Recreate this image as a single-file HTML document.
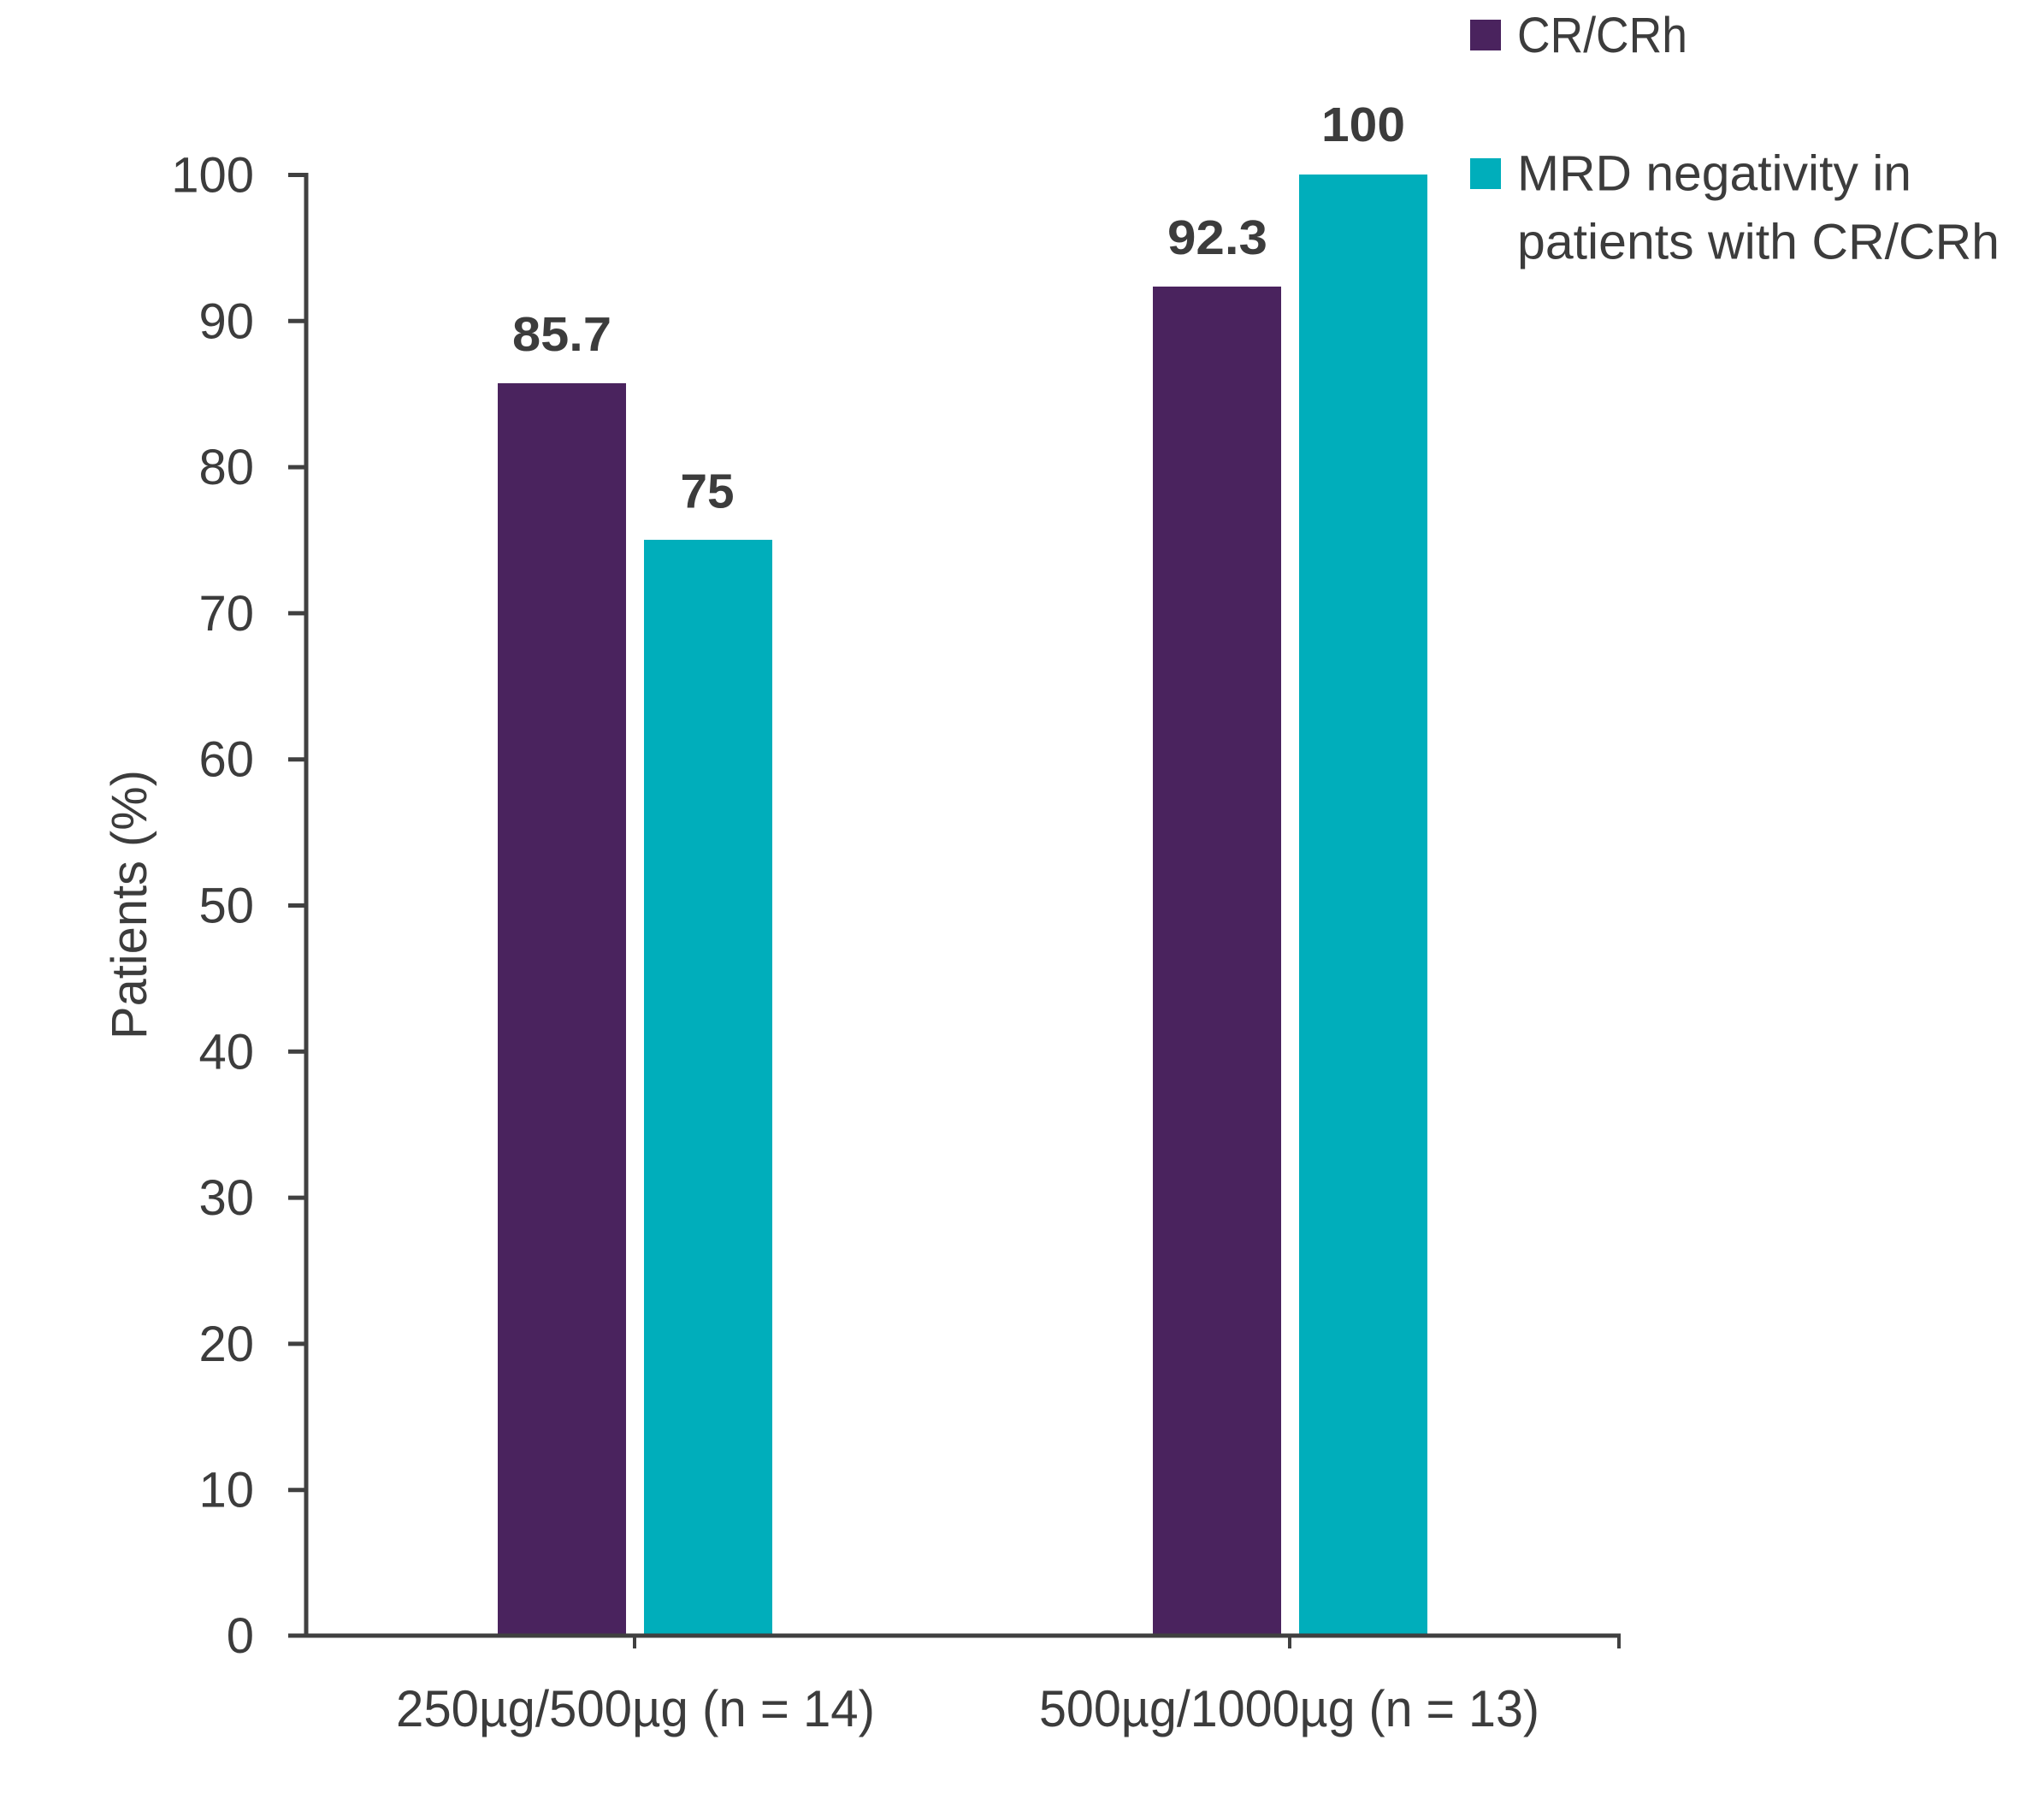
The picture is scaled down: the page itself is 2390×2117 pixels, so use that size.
<!DOCTYPE html>
<html>
<head>
<meta charset="utf-8">
<style>
  html, body { margin: 0; padding: 0; background: #ffffff; }
  body { width: 2390px; height: 2117px; overflow: hidden; }
  svg { display: block; }
  text { font-family: "Liberation Sans", "DejaVu Sans", sans-serif; fill: #3c3c3c; }
</style>
</head>
<body>
<svg width="2390" height="2117" viewBox="0 0 2390 2117" xmlns="http://www.w3.org/2000/svg">
  <rect x="0" y="0" width="2390" height="2117" fill="#ffffff"/>

  <!-- Bars -->
  <rect x="582" y="448" width="150" height="1462" fill="#4a235e"/>
  <rect x="753" y="631" width="150" height="1279" fill="#00aebb"/>
  <rect x="1348" y="335" width="150" height="1575" fill="#4a235e"/>
  <rect x="1519" y="204" width="150" height="1706" fill="#00aebb"/>

  <!-- Axes -->
  <g stroke="#404040" stroke-width="5" fill="none">
    <line x1="358" y1="202" x2="358" y2="1914"/>
    <line x1="337" y1="1912" x2="1895" y2="1912"/>
    <line x1="337" y1="204.5" x2="358" y2="204.5"/>
    <line x1="337" y1="375.3" x2="358" y2="375.3"/>
    <line x1="337" y1="546.1" x2="358" y2="546.1"/>
    <line x1="337" y1="716.9" x2="358" y2="716.9"/>
    <line x1="337" y1="887.7" x2="358" y2="887.7"/>
    <line x1="337" y1="1058.5" x2="358" y2="1058.5"/>
    <line x1="337" y1="1229.3" x2="358" y2="1229.3"/>
    <line x1="337" y1="1400.1" x2="358" y2="1400.1"/>
    <line x1="337" y1="1570.9" x2="358" y2="1570.9"/>
    <line x1="337" y1="1741.7" x2="358" y2="1741.7"/>
  </g>
  <g stroke="#404040" stroke-width="4" fill="none">
    <line x1="742" y1="1912" x2="742" y2="1927"/>
    <line x1="1508" y1="1912" x2="1508" y2="1927"/>
    <line x1="1893" y1="1912" x2="1893" y2="1927"/>
  </g>

  <!-- Y tick labels -->
  <g font-size="58" text-anchor="end">
    <text x="297" y="224.5">100</text>
    <text x="297" y="395.3">90</text>
    <text x="297" y="566.1">80</text>
    <text x="297" y="736.9">70</text>
    <text x="297" y="907.7">60</text>
    <text x="297" y="1078.5">50</text>
    <text x="297" y="1249.3">40</text>
    <text x="297" y="1420.1">30</text>
    <text x="297" y="1590.9">20</text>
    <text x="297" y="1761.7">10</text>
    <text x="297" y="1932">0</text>
  </g>

  <!-- Y axis title -->
  <text font-size="58" text-anchor="middle" transform="translate(171,1057.5) rotate(-90)" textLength="315" lengthAdjust="spacingAndGlyphs">Patients (%)</text>

  <!-- X labels -->
  <text x="463" y="2018" font-size="60" textLength="560" lengthAdjust="spacingAndGlyphs">250µg/500µg (n = 14)</text>
  <text x="1215" y="2018" font-size="60" textLength="585" lengthAdjust="spacingAndGlyphs">500µg/1000µg (n = 13)</text>

  <!-- Value labels -->
  <g font-size="57" font-weight="bold" text-anchor="middle">
    <text x="657" y="410" textLength="116" lengthAdjust="spacingAndGlyphs">85.7</text>
    <text x="827" y="593.5" textLength="63" lengthAdjust="spacingAndGlyphs">75</text>
    <text x="1423.5" y="297" textLength="117" lengthAdjust="spacingAndGlyphs">92.3</text>
    <text x="1594" y="165" textLength="98" lengthAdjust="spacingAndGlyphs">100</text>
  </g>

  <!-- Legend -->
  <rect x="1719" y="23" width="36" height="36" fill="#4a235e"/>
  <rect x="1719" y="185" width="36" height="36" fill="#00aebb"/>
  <g font-size="58">
    <text x="1774" y="61" textLength="199" lengthAdjust="spacingAndGlyphs">CR/CRh</text>
    <text x="1774" y="222.5" textLength="461" lengthAdjust="spacingAndGlyphs">MRD negativity in</text>
    <text x="1774" y="302.5" textLength="564" lengthAdjust="spacingAndGlyphs">patients with CR/CRh</text>
  </g>
</svg>
</body>
</html>
